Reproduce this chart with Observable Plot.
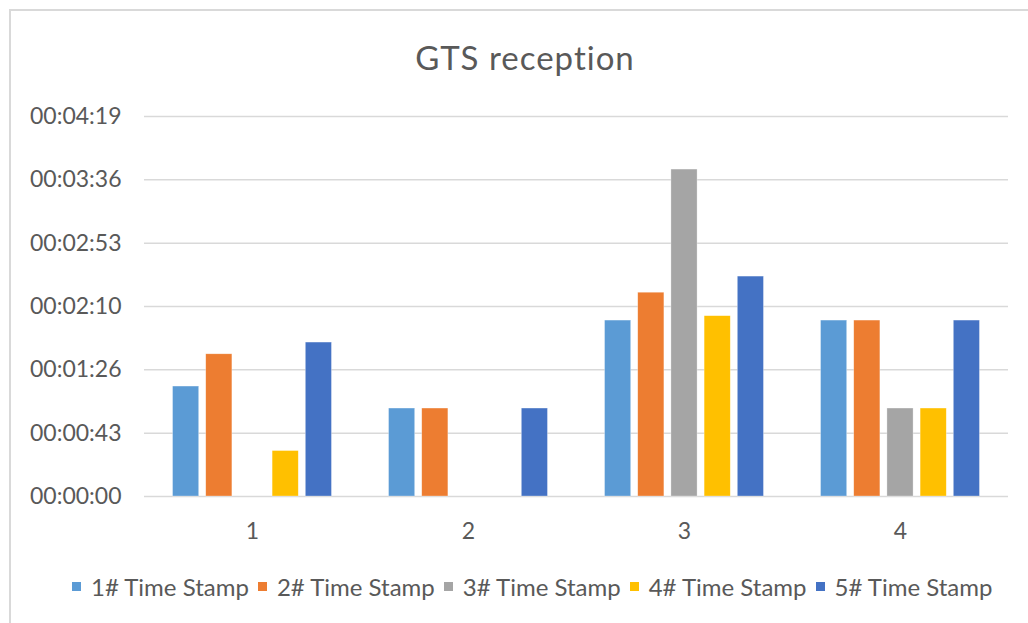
<!DOCTYPE html>
<html>
<head>
<meta charset="utf-8">
<script src="https://cdn.jsdelivr.net/npm/d3@7"></script>
<script src="https://cdn.jsdelivr.net/npm/@observablehq/plot@0.6"></script>
<style>
  html, body { margin: 0; padding: 0; background: #fff; }
  #wrap { position: relative; width: 1028px; height: 623px; overflow: hidden; font-family: Lato, "Open Sans", sans-serif; color: #595959; }
  #frame { position: absolute; left: 9px; top: 9px; right: -5px; bottom: -5px; border-top: 2px solid #d9d9d9; border-left: 2px solid #d9d9d9; }
  #title { position: absolute; left: 0; width: 1050px; top: 37px; text-align: center; font-size: 33px; letter-spacing: 1px; color: #595959; }
  #chart { position: absolute; left: 0; top: 0; }
  #legend { position: absolute; left: 72px; top: 572px; display: flex; font-size: 24px; color: #595959; white-space: nowrap; }
  .item { display: flex; align-items: center; margin-right: 9px; }
  .sw { width: 9px; height: 9px; margin-right: 10px; }
</style>
</head>
<body>
<div id="wrap">
  <div id="frame"></div>
  <div id="title">GTS reception</div>
  <div id="chart"></div>
  <div id="legend"></div>
</div>
<script>
// Categories (x groups)
const groups = [1, 2, 3, 4];
// Series names
const series = ["1# Time Stamp", "2# Time Stamp", "3# Time Stamp", "4# Time Stamp", "5# Time Stamp"];
// Series values in seconds, one per group
const ts1 = [75, 60, 120, 120];
const ts2 = [97, 60, 139, 120];
const ts3 = [0, 0, 223, 60];
const ts4 = [31, 0, 123, 60];
const ts5 = [105, 60, 150, 120];
// Y tick values (seconds) and labels
const yTickValues = [0, 43.2, 86.4, 129.6, 172.8, 216, 259.2];
const yTickLabels = ["00:00:00", "00:00:43", "00:01:26", "00:02:10", "00:02:53", "00:03:36", "00:04:19"];
// Colors
const colors = ["#5B9BD5", "#ED7D31", "#A5A5A5", "#FFC000", "#4472C4"];

const allValues = [ts1, ts2, ts3, ts4, ts5];
const data = [];
series.forEach((s, i) => {
  groups.forEach((g, j) => {
    data.push({group: g, series: s, value: allValues[i][j]});
  });
});

const plot = Plot.plot({
  width: 1028,
  height: 623,
  marginLeft: 144,
  marginRight: 20,
  marginTop: 116,
  marginBottom: 127,
  style: {fontFamily: "Lato, 'Open Sans', sans-serif", fontSize: "23px", color: "#595959", background: "transparent"},
  fx: {domain: groups, padding: 0, round: false, axis: "bottom", tickSize: 0, tickPadding: 26, label: null},
  x: {domain: series, paddingInner: 0.212, paddingOuter: 0.86, round: false, axis: null},
  y: {domain: [0, 259.2], ticks: yTickValues, tickSize: 0, tickPadding: 23, label: null,
      tickFormat: (d) => yTickLabels[yTickValues.indexOf(d)]},
  color: {domain: series, range: colors},
  marks: [
    Plot.ruleY(yTickValues, {stroke: "#d9d9d9", strokeWidth: 1.5}),
    Plot.barY(data.filter(d => d.value > 0), {fx: "group", x: "series", y: "value", fill: "series", stroke: "#ffffff", strokeWidth: 0.6, strokeOpacity: 0.5})
  ]
});
document.getElementById("chart").appendChild(plot);

const legend = document.getElementById("legend");
series.forEach((s, i) => {
  const item = document.createElement("div");
  item.className = "item";
  const sw = document.createElement("div");
  sw.className = "sw";
  sw.style.background = colors[i];
  const t = document.createElement("span");
  t.textContent = s;
  item.appendChild(sw);
  item.appendChild(t);
  legend.appendChild(item);
});
</script>
</body>
</html>
